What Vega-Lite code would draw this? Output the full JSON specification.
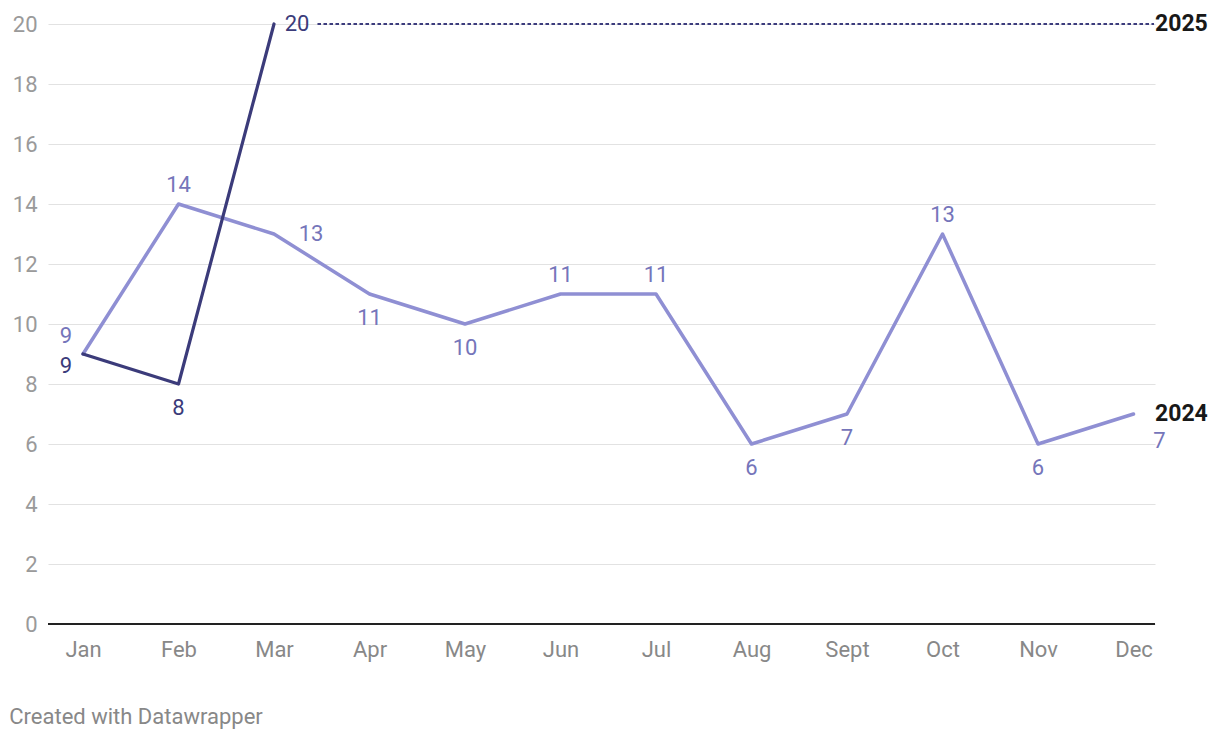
{
  "$schema": "https://vega.github.io/schema/vega-lite/v6.json",
  "width": 1107,
  "height": 600,
  "autosize": {"type": "none"},
  "padding": {"left": 48, "top": 24, "right": 65, "bottom": 116},
  "background": "white",
  "config": {
    "font": "Roboto",
    "view": {"stroke": null}
  },
  "title": {
    "text": "Created with Datawrapper",
    "orient": "bottom",
    "anchor": "start",
    "frame": "bounds",
    "font": "Roboto",
    "fontSize": 22,
    "fontWeight": "normal",
    "color": "#888888",
    "offset": 47,
    "dx": -3
  },
  "data": {
    "values": [
      {"month": "Jan", "m": 0, "year": "2024", "value": 9},
      {"month": "Feb", "m": 1, "year": "2024", "value": 14},
      {"month": "Mar", "m": 2, "year": "2024", "value": 13},
      {"month": "Apr", "m": 3, "year": "2024", "value": 11},
      {"month": "May", "m": 4, "year": "2024", "value": 10},
      {"month": "Jun", "m": 5, "year": "2024", "value": 11},
      {"month": "Jul", "m": 6, "year": "2024", "value": 11},
      {"month": "Aug", "m": 7, "year": "2024", "value": 6},
      {"month": "Sept", "m": 8, "year": "2024", "value": 7},
      {"month": "Oct", "m": 9, "year": "2024", "value": 13},
      {"month": "Nov", "m": 10, "year": "2024", "value": 6},
      {"month": "Dec", "m": 11, "year": "2024", "value": 7},
      {"month": "Jan", "m": 0, "year": "2025", "value": 9},
      {"month": "Feb", "m": 1, "year": "2025", "value": 8},
      {"month": "Mar", "m": 2, "year": "2025", "value": 20}
    ]
  },
  "encoding": {
    "x": {
      "field": "m",
      "type": "quantitative",
      "scale": {"domain": [-0.3665, 11.225], "nice": false, "zero": false},
      "axis": {
        "title": null,
        "values": [0, 1, 2, 3, 4, 5, 6, 7, 8, 9, 10, 11],
        "labelExpr": "['Jan','Feb','Mar','Apr','May','Jun','Jul','Aug','Sept','Oct','Nov','Dec'][datum.value]",
        "domain": false,
        "ticks": false,
        "grid": false,
        "labelFont": "Roboto",
        "labelFontSize": 22,
        "labelColor": "#888888",
        "labelPadding": 15,
        "labelFlush": false
      }
    },
    "y": {
      "field": "value",
      "type": "quantitative",
      "scale": {"domain": [0, 20], "nice": false},
      "axis": {
        "title": null,
        "values": [0, 2, 4, 6, 8, 10, 12, 14, 16, 18, 20],
        "domain": false,
        "ticks": false,
        "grid": true,
        "gridColor": "#e2e2e2",
        "gridWidth": 1.2,
        "labelFont": "Roboto",
        "labelFontSize": 22,
        "labelColor": "#9a9a9a",
        "labelPadding": 11
      }
    }
  },
  "layer": [
    {
      "mark": {"type": "rule", "color": "#222222", "strokeWidth": 2},
      "encoding": {"x": {"datum": -0.3665}, "x2": {"datum": 11.225}, "y": {"datum": 0}}
    },
    {
      "mark": {"type": "rule", "color": "#3d3d7d", "strokeWidth": 1.4, "strokeDash": [3, 3]},
      "encoding": {"x": {"datum": 2.46}, "x2": {"datum": 11.215}, "y": {"datum": 20}}
    },
    {
      "transform": [{"filter": "datum.year === '2024'"}],
      "mark": {"type": "line", "color": "#8f8fd3", "strokeWidth": 3.5, "strokeCap": "round", "strokeJoin": "round"}
    },
    {
      "transform": [{"filter": "datum.year === '2025'"}],
      "mark": {"type": "line", "color": "#3b3b7a", "strokeWidth": 3.2, "strokeCap": "round", "strokeJoin": "round"}
    },
    {
      "transform": [{"filter": "datum.year === '2024' && indexof(['Feb','Jun','Jul','Oct'], datum.month) >= 0"}],
      "mark": {"type": "text", "fontSize": 22, "color": "#7575ba", "dy": -19, "align": "center", "baseline": "middle"},
      "encoding": {"text": {"field": "value"}}
    },
    {
      "transform": [{"filter": "datum.year === '2024' && indexof(['Apr','May','Aug','Sept','Nov'], datum.month) >= 0"}],
      "mark": {"type": "text", "fontSize": 22, "color": "#7575ba", "dy": 24, "align": "center", "baseline": "middle"},
      "encoding": {"text": {"field": "value"}}
    },
    {
      "transform": [{"filter": "datum.year === '2024' && datum.month === 'Jan'"}],
      "mark": {"type": "text", "fontSize": 22, "color": "#7575ba", "dx": -17, "dy": -18, "align": "center", "baseline": "middle"},
      "encoding": {"text": {"field": "value"}}
    },
    {
      "transform": [{"filter": "datum.year === '2024' && datum.month === 'Mar'"}],
      "mark": {"type": "text", "fontSize": 22, "color": "#7575ba", "dx": 37, "dy": 0, "align": "center", "baseline": "middle"},
      "encoding": {"text": {"field": "value"}}
    },
    {
      "transform": [{"filter": "datum.year === '2024' && datum.month === 'Dec'"}],
      "mark": {"type": "text", "fontSize": 22, "color": "#7575ba", "dx": 26, "dy": 27, "align": "center", "baseline": "middle"},
      "encoding": {"text": {"field": "value"}}
    },
    {
      "transform": [{"filter": "datum.year === '2025' && datum.month === 'Jan'"}],
      "mark": {"type": "text", "fontSize": 22, "color": "#3b3b7a", "dx": -17, "dy": 12, "align": "center", "baseline": "middle"},
      "encoding": {"text": {"field": "value"}}
    },
    {
      "transform": [{"filter": "datum.year === '2025' && datum.month === 'Feb'"}],
      "mark": {"type": "text", "fontSize": 22, "color": "#3b3b7a", "dy": 24, "align": "center", "baseline": "middle"},
      "encoding": {"text": {"field": "value"}}
    },
    {
      "transform": [{"filter": "datum.year === '2025' && datum.month === 'Mar'"}],
      "mark": {"type": "text", "fontSize": 22, "color": "#3b3b7a", "dx": 23, "dy": 0, "align": "center", "baseline": "middle"},
      "encoding": {"text": {"field": "value"}}
    },
    {
      "transform": [{"filter": "datum.month === 'Dec' || (datum.year === '2025' && datum.month === 'Mar')"}],
      "mark": {"type": "text", "fontSize": 23, "fontWeight": "bold", "color": "#181818", "align": "left", "baseline": "middle", "dx": 0},
      "encoding": {"x": {"datum": 11.225}, "text": {"field": "year"}}
    }
  ]
}
